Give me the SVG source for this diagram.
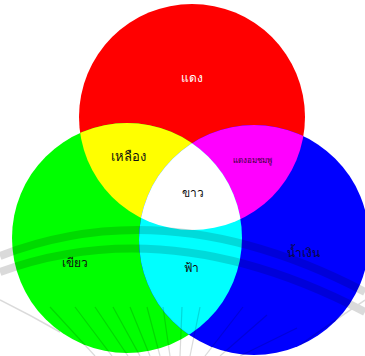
<svg xmlns="http://www.w3.org/2000/svg" width="365" height="356" viewBox="0 0 365 356">
  <style>
    .lbl { font-family: "Noto Sans", "DejaVu Sans", "Liberation Sans", sans-serif; text-anchor: middle; dominant-baseline: central; }
    .dark { fill: #111111; }
    .wm { fill: none; stroke: #000000; }
  </style>
  <defs>
    <clipPath id="cR"><circle cx="192" cy="117" r="113"/></clipPath>
    <clipPath id="cG"><circle cx="127" cy="238" r="115"/></clipPath>
    <clipPath id="cB"><circle cx="254" cy="240" r="115"/></clipPath>
  </defs>
  <rect width="365" height="356" fill="#ffffff"/>
  <g id="red">
    <circle cx="192" cy="117" r="113" fill="#ff0000"/>
  </g>
  <g id="green">
    <circle cx="127" cy="238" r="115" fill="#00ff00"/>
  </g>
  <g id="blue">
    <circle cx="254" cy="240" r="115" fill="#0000ff"/>
  </g>
  <g id="yellow">
    <circle cx="127" cy="238" r="115" fill="#ffff00" clip-path="url(#cR)"/>
  </g>
  <g id="magenta">
    <circle cx="254" cy="240" r="115" fill="#ff00ff" clip-path="url(#cR)"/>
  </g>
  <g id="cyan">
    <circle cx="254" cy="240" r="115" fill="#00ffff" clip-path="url(#cG)"/>
  </g>
  <g id="white">
    <g clip-path="url(#cR)">
      <circle cx="254" cy="240" r="115" fill="#ffffff" clip-path="url(#cG)"/>
    </g>
  </g>
  <g id="watermark" opacity="0.14">
    <path class="wm" stroke-width="8" d="M0,256 Q170,190 365,292"/>
    <path class="wm" stroke-width="8" d="M0,272 Q170,210 365,312"/>
    <path class="wm" stroke-width="1.5" d="M0,300 Q30,315 60,332"/>
    <path class="wm" stroke-width="1.5" d="M300,345 Q335,320 365,300"/>
    <g stroke-width="1.2">
      <line class="wm" x1="50" y1="307" x2="95" y2="356"/>
      <line class="wm" x1="75" y1="307" x2="112" y2="356"/>
      <line class="wm" x1="95" y1="307" x2="128" y2="356"/>
      <line class="wm" x1="113" y1="307" x2="140" y2="356"/>
      <line class="wm" x1="130" y1="307" x2="150" y2="356"/>
      <line class="wm" x1="147" y1="307" x2="160" y2="356"/>
      <line class="wm" x1="163" y1="307" x2="170" y2="356"/>
      <line class="wm" x1="182" y1="307" x2="180" y2="356"/>
      <line class="wm" x1="200" y1="307" x2="190" y2="356"/>
      <line class="wm" x1="243" y1="307" x2="205" y2="356"/>
      <line class="wm" x1="267" y1="315" x2="220" y2="356"/>
      <line class="wm" x1="297" y1="328" x2="240" y2="356"/>
    </g>
  </g>
  <g id="labels">
    <text class="lbl" x="192" y="77" font-size="12" fill="#ffffff">แดง</text>
    <text class="lbl dark" x="128" y="156" font-size="13">เหลือง</text>
    <text class="lbl" x="252" y="159" font-size="8" fill="#3a003a">แดงอมชมพู</text>
    <text class="lbl dark" x="193" y="192" font-size="12">ขาว</text>
    <text class="lbl dark" x="75" y="262" font-size="12">เขียว</text>
    <text class="lbl dark" x="191" y="267" font-size="12">ฟ้า</text>
    <text class="lbl" x="303" y="252" font-size="12" fill="#0a0a40">น้ำเงิน</text>
  </g>
</svg>
